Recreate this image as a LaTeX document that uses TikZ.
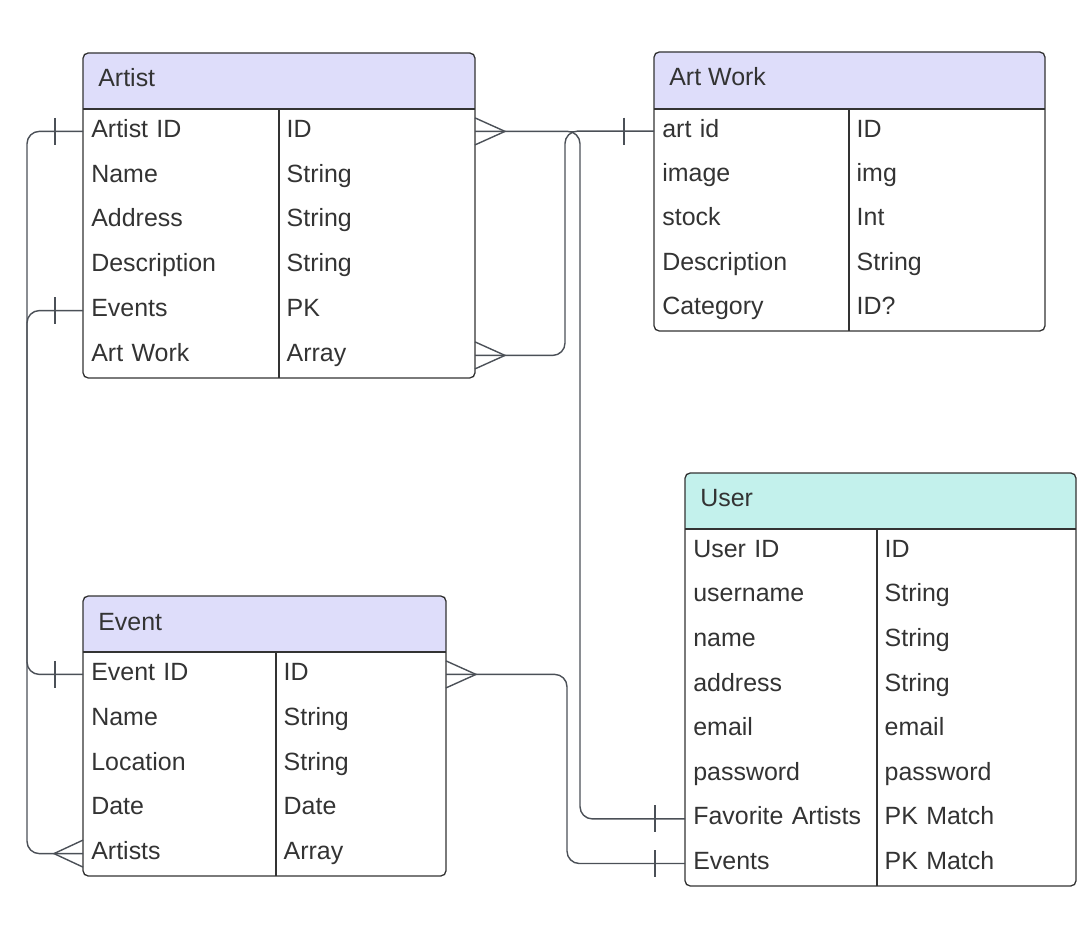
\documentclass[tikz,border=0pt]{standalone}
\usepackage{fontspec}
\setmainfont{Liberation Sans}
\usetikzlibrary{calc}

\definecolor{hdrblue}{HTML}{DEDDFA}
\definecolor{hdrteal}{HTML}{C3F1EC}
\definecolor{ink}{HTML}{333333}
\definecolor{wirecol}{HTML}{4B5057}

\begin{document}
\begin{tikzpicture}[
    x=0.02cm, y=-0.02cm,
    every node/.style={font=\fontsize{14.2}{17}\selectfont, text=ink},
    box/.style={draw=ink, line width=0.75pt, rounded corners=3pt},
    title/.style={inner xsep=0.3cm, inner ysep=0pt, text height=0.36cm, text depth=0.12cm},
    cell/.style={text width=#1, inner xsep=0.16cm, inner ysep=0pt, align=left,
                 text height=0.36cm, text depth=0.12cm},
    wire/.style={draw=wirecol, line width=0.8pt, rounded corners=7pt},
    foot/.style={draw=wirecol, line width=0.8pt},
]
\useasboundingbox (0,0) rectangle (1092,942);

% === Artist table ===
\fill[hdrblue, rounded corners=3pt] (83,53) rectangle (475,109);
\fill[hdrblue] (83,90) rectangle (475,109);
\draw[box] (83,53) rectangle (475,378);
\draw[box] (83,109) -- (475,109);
\draw[box] (279,109) -- (279,378);
\node[title, anchor=west] (artist) at (83,81) {Artist};
\foreach \i/\nm/\ty in {1/Artist ID/ID, 2/Name/String, 3/Address/String,
                        4/Description/String, 5/Events/PK, 6/Art Work/Array} {
    \node[cell=3.6cm, anchor=west] (artist-n\i) at (83,{109+44.8*(\i-0.5)}) {\nm};
    \node[cell=3.6cm, anchor=east] (artist-t\i) at (475,{109+44.8*(\i-0.5)}) {\ty};
}

% === Art Work table ===
\fill[hdrblue, rounded corners=3pt] (654,52) rectangle (1045,109);
\fill[hdrblue] (654,90) rectangle (1045,109);
\draw[box] (654,52) rectangle (1045,331);
\draw[box] (654,109) -- (1045,109);
\draw[box] (849,109) -- (849,331);
\node[title, anchor=west] (artwork) at (654,80) {Art Work};
\foreach \i/\nm/\ty in {1/art id/ID, 2/image/img, 3/stock/Int,
                        4/Description/String, 5/Category/ID?} {
    \node[cell=3.58cm, anchor=west] (art-n\i) at (654,{109+44.4*(\i-0.5)}) {\nm};
    \node[cell=3.6cm, anchor=east] (art-t\i) at (1045,{109+44.4*(\i-0.5)}) {\ty};
}

% === User table ===
\fill[hdrteal, rounded corners=3pt] (685,473) rectangle (1076,529);
\fill[hdrteal] (685,510) rectangle (1076,529);
\draw[box] (685,473) rectangle (1076,886);
\draw[box] (685,529) -- (1076,529);
\draw[box] (877,529) -- (877,886);
\node[title, anchor=west] (user) at (685,501) {User};
\foreach \i/\nm/\ty in {1/User ID/ID, 2/username/String, 3/name/String,
                        4/address/String, 5/email/email, 6/password/password,
                        7/Favorite Artists/PK Match, 8/Events/PK Match} {
    \node[cell=3.52cm, anchor=west] (user-n\i) at (685,{529+44.6*(\i-0.5)}) {\nm};
    \node[cell=3.66cm, anchor=east] (user-t\i) at (1076,{529+44.6*(\i-0.5)}) {\ty};
}

% === Event table ===
\fill[hdrblue, rounded corners=3pt] (83,596) rectangle (446,652);
\fill[hdrblue] (83,630) rectangle (446,652);
\draw[box] (83,596) rectangle (446,876);
\draw[box] (83,652) -- (446,652);
\draw[box] (276,652) -- (276,876);
\node[title, anchor=west] (event) at (83,624) {Event};
\foreach \i/\nm/\ty in {1/Event ID/ID, 2/Name/String, 3/Location/String,
                        4/Date/Date, 5/Artists/Array} {
    \node[cell=3.54cm, anchor=west] (event-n\i) at (83,{652+44.8*(\i-0.5)}) {\nm};
    \node[cell=3.08cm, anchor=east] (event-t\i) at (446,{652+44.8*(\i-0.5)}) {\ty};
}

% === Relations ===
% Artist ID -> Event artists
\draw[wire] (artist-n1.west) -- ++(-56,0) |- (event-n5.west);
\draw[foot] ($(artist-n1.west)+(-28,-13.5)$) -- ++(0,27);
\draw[foot] ($(event-n5.west)+(0,-13.5)$) -- ++(-29,13.5) -- ++(29,13.5);

% Artist events -> Event ID
\draw[wire] (artist-n5.west) -- ++(-56,0) |- (event-n1.west);
\draw[foot] ($(artist-n5.west)+(-28,-13.5)$) -- ++(0,27);
\draw[foot] ($(event-n1.west)+(-28,-13.5)$) -- ++(0,27);

% Artist ID -> art id
\draw[wire] (artist-t1.east) -- (artist-t1.east -| art-n1.west);
\draw[foot] ($(artist-t1.east)+(0,-13.5)$) -- ++(30,13.5) -- ++(-30,13.5);
\draw[foot] ($(art-n1.west)+(-30,-13.5)$) -- ++(0,27);

% Artist art work -> art id
\draw[wire] (artist-t6.east) -- ++(90,0) |- (art-n1.west);
\draw[foot] ($(artist-t6.east)+(0,-13.5)$) -- ++(30,13.5) -- ++(-30,13.5);

% Artist -> favorite artists
\draw[wire] (artist-t1.east) -- ++(105,0) |- (user-n7.west);
\draw[foot] ($(user-n7.west)+(-30,-13.5)$) -- ++(0,27);

% Event ID -> user events
\draw[wire] (event-t1.east) -- ++(121,0) |- (user-n8.west);
\draw[foot] ($(event-t1.east)+(0,-13.5)$) -- ++(30,13.5) -- ++(-30,13.5);
\draw[foot] ($(user-n8.west)+(-30,-13.5)$) -- ++(0,27);

\end{tikzpicture}
\end{document}
